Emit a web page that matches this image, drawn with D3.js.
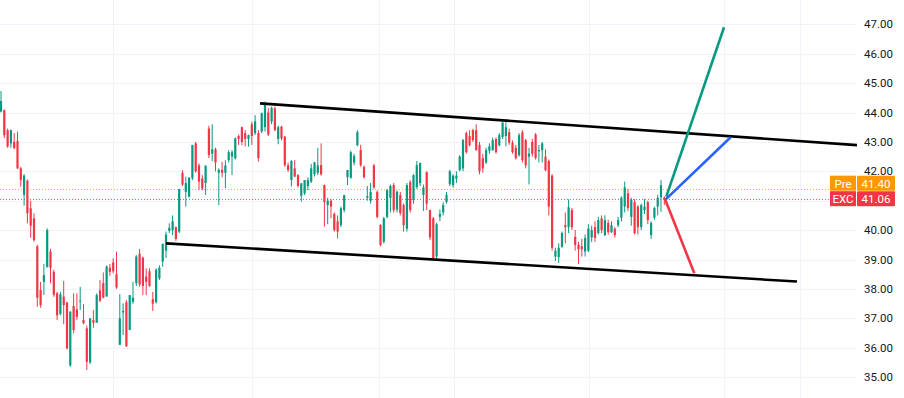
<!DOCTYPE html>
<html>
<head>
<meta charset="utf-8">
<script src="https://cdn.jsdelivr.net/npm/d3@7"></script>
<style>
  body { margin: 0; background: #fff; }
  svg { display: block; font-family: Roboto, "Liberation Sans", sans-serif; }
</style>
</head>
<body>
<div id="chart"></div>
<script>
// svg params
var svgWidth = 904;
var svgHeight = 398;
var plotRight = 857;

// candles (one per bar, oldest first)
var openP = [44.03,44.08,43.4,42.95,43.0,43.03,42.1,41.2,41.68,40.74,
  40.4,39.45,37.96,38.24,38.75,39.27,38.58,37.85,37.15,37.74,
  37.54,35.4,37.42,37.3,37.57,36.94,36.66,35.5,36.94,36.85,
  37.95,38.2,37.74,38.72,38.9,38.5,36.1,37.2,37.55,36.6,
  37.56,38.2,39.2,39.06,38.42,38.6,37.65,37.55,38.36,38.93,
  39.3,39.97,40.0,40.1,39.95,41.95,41.3,41.14,41.76,42.95,
  42.2,41.75,41.6,43.45,42.6,42.75,41.95,42.05,41.95,42.38,
  42.5,42.44,43.2,43.5,43.3,43.1,43.6,43.3,43.3,43.35,
  43.5,44.0,43.69,44.14,43.1,43.52,43.18,42.21,41.7,42.1,
  41.87,41.17,41.25,41.5,41.65,41.9,41.95,42.21,41.53,40.85,
  41.0,40.55,40.3,40.17,40.68,41.8,41.78,42.3,42.89,42.72,
  42.15,41.1,41.0,42.2,41.3,40.17,39.6,40.45,41.1,41.53,
  40.7,41.19,40.85,40.05,41.63,41.02,41.46,41.6,41.2,41.97,
  40.68,40.4,39.1,40.45,40.6,40.95,41.56,41.53,41.75,42.04,
  42.1,43.3,43.2,43.4,43.4,42.9,42.45,42.3,42.7,42.72,
  43.1,42.89,43.17,43.2,43.33,42.97,42.8,42.55,43.33,43.06,
  42.5,43.0,43.25,42.68,42.72,42.5,42.35,41.85,39.1,39.08,
  39.43,40.17,40.1,40.68,39.77,39.5,39.45,39.27,39.3,39.75,
  40.1,39.9,40.4,39.83,40.24,39.93,40.05,40.17,40.42,40.8,
  41.25,40.45,40.95,40.8,40.1,40.68,40.95,39.83,40.42,40.8,
  41.12,41.1];
var highP = [44.73,44.1,43.45,43.42,43.3,43.35,42.15,41.9,41.72,41.0,
  40.57,39.5,38.24,38.85,40.06,39.36,38.65,37.9,37.9,38.27,
  37.56,37.25,37.85,37.85,38.07,37.48,36.75,37.0,37.28,37.85,
  38.3,38.56,38.8,38.85,39.04,39.27,37.82,37.51,37.62,37.79,
  38.24,39.15,39.36,39.1,38.7,38.7,37.9,38.7,38.8,39.55,
  39.95,40.23,40.5,40.12,41.4,42.04,41.82,41.8,42.9,43.0,
  42.27,41.87,42.2,43.55,43.6,42.8,42.1,42.32,42.38,42.72,
  42.72,43.15,43.25,43.52,43.4,43.25,43.69,43.91,43.4,44.0,
  44.37,44.15,44.2,44.2,43.55,43.55,43.2,42.3,42.38,42.38,
  41.9,41.6,41.7,41.8,42.25,42.32,42.8,42.95,41.55,41.1,
  41.05,40.6,40.5,40.8,41.2,42.05,42.7,42.6,43.4,42.9,
  42.2,41.5,41.6,42.25,41.35,40.2,40.45,41.4,41.55,41.6,
  41.35,41.3,40.9,41.6,41.7,41.9,42.35,42.3,41.55,42.0,
  40.7,40.45,40.25,40.7,40.95,41.3,42.05,41.9,42.0,42.55,
  43.1,43.35,43.4,43.45,43.6,43.0,42.6,42.8,42.95,43.15,
  43.15,43.3,43.7,43.67,43.45,43.05,42.9,43.3,43.4,43.1,
  42.8,43.1,43.3,42.9,43.0,42.75,42.4,41.9,39.4,39.55,
  39.95,40.6,41.05,40.75,40.0,39.6,39.7,39.85,40.2,40.15,
  40.3,40.45,40.5,40.5,40.35,40.3,40.1,40.45,41.15,41.65,
  41.4,41.1,41.05,40.85,40.9,41.05,41.0,40.3,40.8,41.2,
  41.7,41.15];
var lowP = [44.0,43.13,42.8,42.8,42.75,42.08,41.48,40.83,40.23,39.74,
  39.6,37.39,37.36,37.79,38.72,38.19,37.73,36.94,37.1,36.8,
  35.94,35.35,36.49,36.95,37.28,36.8,35.24,35.45,36.68,36.85,
  37.55,37.68,37.74,38.45,38.53,38.0,36.09,36.43,36.03,36.6,
  37.5,38.1,38.07,37.79,37.79,38.07,37.25,37.5,38.3,38.75,
  39.05,39.9,39.83,39.63,39.9,41.5,40.8,41.1,41.7,41.95,
  41.36,41.35,41.2,42.45,42.35,42.0,40.85,41.8,41.42,42.3,
  41.87,42.4,42.89,42.89,42.85,42.84,42.9,43.23,42.33,43.3,
  43.35,43.2,43.6,43.37,42.92,43.05,42.15,41.98,41.48,41.8,
  41.45,40.97,41.19,41.35,41.6,41.82,41.87,41.85,40.12,40.2,
  40.4,39.95,39.72,40.1,40.6,41.53,41.75,42.2,42.85,42.15,
  41.75,41.0,40.9,41.4,40.4,39.45,39.55,40.4,40.6,40.6,
  40.6,40.5,39.95,39.95,40.6,40.9,41.4,41.5,40.65,40.68,
  39.66,38.95,39.0,40.3,40.5,40.9,41.5,41.45,41.6,42.0,
  42.0,42.6,42.85,43.0,42.7,41.9,41.95,42.25,42.6,42.7,
  42.6,42.85,43.1,42.85,42.9,42.6,42.4,42.5,42.3,42.1,
  41.55,42.5,42.4,42.3,42.3,42.0,40.5,39.3,38.95,38.88,
  39.4,39.55,39.9,40.0,39.3,38.85,39.1,39.1,39.25,39.6,
  39.6,39.85,39.9,39.8,39.85,39.9,39.75,40.1,40.3,40.6,
  40.65,40.15,39.85,39.85,40.0,40.55,40.2,39.7,40.35,40.5,
  40.62,40.85];
var closeP = [44.39,43.23,42.84,43.4,42.79,42.1,41.7,41.85,40.57,40.15,
  39.66,37.7,37.45,38.47,40.0,38.72,37.8,37.1,37.82,37.45,
  35.98,37.22,36.6,37.05,37.6,36.83,35.52,37.0,36.85,37.79,
  37.6,37.7,38.76,38.58,38.6,38.05,37.0,37.25,36.05,37.79,
  37.7,39.1,38.15,38.1,38.24,38.1,37.5,38.65,38.72,39.53,
  39.85,40.08,40.3,39.7,41.39,41.55,41.6,41.78,42.89,42.0,
  41.65,41.42,42.19,42.55,42.75,42.3,42.05,41.95,42.2,42.65,
  42.65,43.12,43.1,43.0,43.1,43.23,43.2,43.7,42.45,43.97,
  44.3,43.25,44.16,43.4,43.5,43.12,42.21,42.04,42.35,41.82,
  41.5,41.59,41.7,41.7,42.1,42.3,42.2,41.9,40.95,41.0,
  40.8,40.0,39.95,40.74,41.19,42.04,42.65,42.52,43.33,42.21,
  41.8,41.15,41.3,41.45,40.45,39.5,40.4,41.36,41.5,40.68,
  41.3,40.58,40.17,41.53,40.68,41.87,42.21,42.28,41.45,40.9,
  39.75,39.05,40.2,40.55,40.85,41.2,42.0,41.85,41.85,42.5,
  43.06,42.65,42.89,43.06,42.72,42.0,42.1,42.72,42.85,43.06,
  42.65,43.23,43.65,43.5,42.97,42.65,42.45,43.23,42.38,42.2,
  42.6,42.6,42.45,42.72,42.95,42.04,40.8,39.4,39.3,39.4,
  39.9,40.1,40.78,40.1,39.49,39.35,39.35,39.73,40.05,40.0,
  39.73,40.34,40.0,40.34,39.93,40.17,39.83,40.34,41.1,41.45,
  40.75,41.02,39.9,40.1,40.85,40.8,40.34,40.24,40.75,41.1,
  41.53,41.06];

// price axis ticks
var priceTicks = [35, 36, 37, 38, 39, 40, 41, 42, 43, 44, 45, 46, 47];
// vertical time grid, in bar index
var timeGrid = [33.9, 76.1, 114.5, 137.3, 178.2, 219.1, 242.1];

// drawings: [bar index, price]
var upperChannel = [[78.5, 44.31], [259.4, 42.89]];
var lowerChannel = [[50, 39.55], [241.2, 38.25]];
var bullPath = [[201.6, 41.14], [219.1, 46.9]];
var basePath = [[201.2, 41.02], [221.1, 43.16]];
var bearPath = [[201.2, 41.06], [210.1, 38.53]];

// last price labels
var preLabel = ["Pre", 41.40];
var lastLabel = ["EXC", 41.06];

var upColor = "#089981";
var downColor = "#f23645";
var preColor = "#ff9800";

var bars = openP.map((o, i) => ({i: i, o: o, h: highP[i], l: lowP[i], c: closeP[i]}));

var xScale = d3.scaleLinear().domain([0, 201]).range([1, 664.3]);
var yScale = d3.scaleLinear().domain([35, 47]).range([377.1, 24.3]);

var svg = d3.select("#chart").append("svg")
    .attr("width", svgWidth)
    .attr("height", svgHeight);

svg.append("clipPath").attr("id", "plotClip")
  .append("rect").attr("x", 0).attr("y", 0).attr("width", plotRight).attr("height", svgHeight);

var plot = svg.append("g").attr("clip-path", "url(#plotClip)");

// grid
plot.selectAll(".hgrid").data(priceTicks).enter().append("line")
    .attr("x1", 0).attr("x2", plotRight)
    .attr("y1", d => Math.round(yScale(d)) + 0.5)
    .attr("y2", d => Math.round(yScale(d)) + 0.5)
    .attr("stroke", "#f0f3fa").attr("stroke-width", 1);

plot.selectAll(".vgrid").data(timeGrid).enter().append("line")
    .attr("x1", d => Math.round(xScale(d)) + 0.5)
    .attr("x2", d => Math.round(xScale(d)) + 0.5)
    .attr("y1", 0).attr("y2", svgHeight)
    .attr("stroke", "#f0f3fa").attr("stroke-width", 1);

// price lines
[[preLabel, preColor], [lastLabel, downColor]].forEach(function(p) {
    plot.append("line")
        .attr("x1", 0).attr("x2", plotRight)
        .attr("y1", Math.round(yScale(p[0][1])) + 0.5)
        .attr("y2", Math.round(yScale(p[0][1])) + 0.5)
        .attr("stroke", p[1]).attr("stroke-width", 1)
        .attr("stroke-dasharray", "1,2")
        .attr("opacity", 0.8);
});

// candles
var candle = plot.selectAll(".bar").data(bars).enter().append("g");
candle.append("line")
    .attr("x1", d => xScale(d.i)).attr("x2", d => xScale(d.i))
    .attr("y1", d => yScale(d.h)).attr("y2", d => yScale(d.l))
    .attr("stroke", d => d.c >= d.o ? upColor : downColor)
    .attr("stroke-width", 1);
candle.append("rect")
    .attr("x", d => xScale(d.i) - 1.1)
    .attr("width", 2.2)
    .attr("y", d => yScale(Math.max(d.o, d.c)))
    .attr("height", d => Math.max(1, Math.abs(yScale(d.o) - yScale(d.c))))
    .attr("fill", d => d.c >= d.o ? upColor : downColor);

// drawings
var line = d3.line().x(d => xScale(d[0])).y(d => yScale(d[1]));
[[upperChannel, "#000"], [lowerChannel, "#000"], [bullPath, upColor],
 [basePath, "#2962ff"], [bearPath, downColor]].forEach(function(t) {
    plot.append("path")
        .attr("d", line(t[0]))
        .attr("fill", "none")
        .attr("stroke", t[1])
        .attr("stroke-width", 2.6)
        .attr("stroke-linecap", "butt");
});

// price label boxes (last price centred on its line, pre-market stacked above)
var lastY = yScale(lastLabel[1]);
var boxH = 15.5;
var boxes = [
    {lab: lastLabel, color: downColor, top: lastY - boxH / 2},
    {lab: preLabel, color: preColor, top: lastY - boxH / 2 - boxH}
];
var boxTop = boxes[1].top, boxBottom = boxes[0].top + boxH;

// right price axis (ticks hidden under the label boxes are skipped)
var axis = svg.append("g");
axis.selectAll("text").data(priceTicks.filter(d => yScale(d) < boxTop - 2 || yScale(d) > boxBottom + 2))
    .enter().append("text")
    .attr("x", 864)
    .attr("y", d => yScale(d))
    .attr("dy", "0.36em")
    .attr("font-size", "11.5px")
    .attr("fill", "#131722")
    .text(d => d3.format(".2f")(d));

boxes.forEach(function(b) {
    var g = svg.append("g");
    g.append("rect").attr("x", 830).attr("y", b.top).attr("width", 26).attr("height", boxH - 0.5)
        .attr("fill", b.color);
    g.append("rect").attr("x", 857).attr("y", b.top).attr("width", 38).attr("height", boxH - 0.5)
        .attr("rx", 1).attr("fill", b.color);
    g.append("text").attr("x", 843).attr("y", b.top + boxH / 2).attr("dy", "0.36em")
        .attr("text-anchor", "middle").attr("font-size", "11.5px").attr("fill", "#fff")
        .text(b.lab[0]);
    g.append("text").attr("x", 876).attr("y", b.top + boxH / 2).attr("dy", "0.36em")
        .attr("text-anchor", "middle").attr("font-size", "11.5px").attr("fill", "#fff")
        .text(d3.format(".2f")(b.lab[1]));
});
</script>
</body>
</html>
